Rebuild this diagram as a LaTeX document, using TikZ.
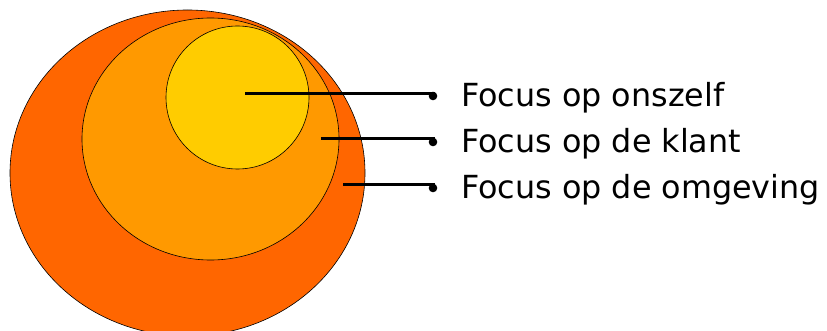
\documentclass[tikz,border=0pt]{standalone}
\usepackage{fontspec}
\setmainfont{DejaVu Sans}
\definecolor{outerc}{HTML}{FF6600}
\definecolor{midc}{HTML}{FF9900}
\definecolor{innerc}{HTML}{FFCC00}
\begin{document}
\begin{tikzpicture}[x=1pt,y=-1pt,
  ring/.style={draw=black,line width=0.6pt},
  leader/.style={line width=3pt},
  lbl/.style={anchor=base west,inner sep=0pt,font=\fontsize{31.8}{33}\selectfont}]
\useasboundingbox (0,0) rectangle (827,331);
\begin{scope}
\clip (0,0) rectangle (827,331);
\fill[outerc] (187.5,173) ellipse [x radius=177.5,y radius=163];
\draw[ring] (187.5,173) ellipse [x radius=177.5,y radius=163];
\end{scope}
\fill[midc] (210.5,139) ellipse [x radius=128.5,y radius=121];
\draw[ring] (210.5,139) ellipse [x radius=128.5,y radius=121];
\fill[innerc] (237.5,97.5) circle [radius=71.5];
\draw[ring] (237.5,97.5) circle [radius=71.5];
\coordinate (s1) at (245,94);
\coordinate (s2) at (321,139);
\coordinate (s3) at (343,185);
\coordinate (e1) at (433,96);
\coordinate (e2) at (433,142);
\coordinate (e3) at (433,188);
\foreach \i in {1,2,3}{
  \draw[leader] (s\i) -- (e\i |- s\i) -- (e\i);
  \fill (e\i) circle [radius=4.3];
}
\node[lbl] (t1) at (461,107) {Focus op onszelf};
\node[lbl] (t2) at (461,153) {Focus op de klant};
\node[lbl] (t3) at (461,199) {Focus op de omgeving};
\end{tikzpicture}
\end{document}
